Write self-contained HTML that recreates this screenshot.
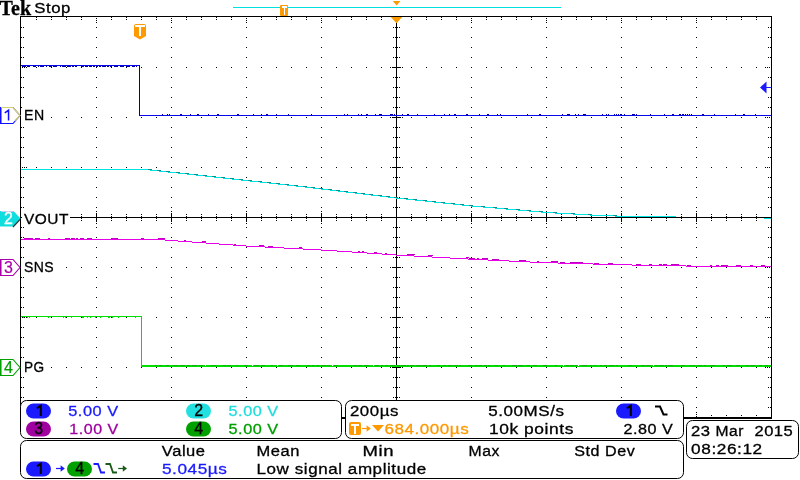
<!DOCTYPE html>
<html><head><meta charset="utf-8"><title>Tek</title>
<style>
html,body{margin:0;padding:0;background:#fff;}
body{width:800px;height:480px;overflow:hidden;position:relative;font-family:"Liberation Sans",sans-serif;}
svg{position:absolute;left:0;top:0;display:block;will-change:transform}
.t{font-family:"Liberation Sans",sans-serif;font-size:15px;letter-spacing:0.5px;stroke-width:0.3}
.tek{font-family:"Liberation Serif",serif;font-weight:bold;font-size:20px;fill:#000}
.px{shape-rendering:crispEdges}
</style></head><body>
<svg width="800" height="480" viewBox="0 0 800 480">
<rect width="800" height="480" fill="#fff"/>

<rect class="px" x="233" y="7" width="328" height="1" fill="#00e0e0"/>
<path d="M392.8 1h7.6l-3.8 4.4z" fill="#ff9900"/>
<rect x="280" y="5" width="8" height="11" rx="1" fill="#ff9900"/>
<path class="px" d="M282 6h5v2h-2v7h-1v-7h-2z" fill="#fff"/>
<path class="px" d="M20 16h752v1h-752zM20 16h1v403h-1zM771 16h1v403h-1zM20 417h752v2h-752zM396 16h1v401h-1zM20 217h751v1h-751zM36 17h1v1h-1zM36 19h1v1h-1zM36 415h1v1h-1zM51 17h1v1h-1zM51 19h1v1h-1zM51 415h1v1h-1zM66 17h1v1h-1zM66 19h1v1h-1zM66 415h1v1h-1zM81 17h1v1h-1zM81 19h1v1h-1zM81 415h1v1h-1zM111 17h1v1h-1zM111 19h1v1h-1zM111 415h1v1h-1zM126 17h1v1h-1zM126 19h1v1h-1zM126 415h1v1h-1zM141 17h1v1h-1zM141 19h1v1h-1zM141 415h1v1h-1zM156 17h1v1h-1zM156 19h1v1h-1zM156 415h1v1h-1zM186 17h1v1h-1zM186 19h1v1h-1zM186 415h1v1h-1zM201 17h1v1h-1zM201 19h1v1h-1zM201 415h1v1h-1zM216 17h1v1h-1zM216 19h1v1h-1zM216 415h1v1h-1zM231 17h1v1h-1zM231 19h1v1h-1zM231 415h1v1h-1zM261 17h1v1h-1zM261 19h1v1h-1zM261 415h1v1h-1zM276 17h1v1h-1zM276 19h1v1h-1zM276 415h1v1h-1zM291 17h1v1h-1zM291 19h1v1h-1zM291 415h1v1h-1zM306 17h1v1h-1zM306 19h1v1h-1zM306 415h1v1h-1zM336 17h1v1h-1zM336 19h1v1h-1zM336 415h1v1h-1zM351 17h1v1h-1zM351 19h1v1h-1zM351 415h1v1h-1zM366 17h1v1h-1zM366 19h1v1h-1zM366 415h1v1h-1zM381 17h1v1h-1zM381 19h1v1h-1zM381 415h1v1h-1zM411 17h1v1h-1zM411 19h1v1h-1zM411 415h1v1h-1zM426 17h1v1h-1zM426 19h1v1h-1zM426 415h1v1h-1zM441 17h1v1h-1zM441 19h1v1h-1zM441 415h1v1h-1zM456 17h1v1h-1zM456 19h1v1h-1zM456 415h1v1h-1zM486 17h1v1h-1zM486 19h1v1h-1zM486 415h1v1h-1zM501 17h1v1h-1zM501 19h1v1h-1zM501 415h1v1h-1zM516 17h1v1h-1zM516 19h1v1h-1zM516 415h1v1h-1zM531 17h1v1h-1zM531 19h1v1h-1zM531 415h1v1h-1zM561 17h1v1h-1zM561 19h1v1h-1zM561 415h1v1h-1zM576 17h1v1h-1zM576 19h1v1h-1zM576 415h1v1h-1zM591 17h1v1h-1zM591 19h1v1h-1zM591 415h1v1h-1zM606 17h1v1h-1zM606 19h1v1h-1zM606 415h1v1h-1zM636 17h1v1h-1zM636 19h1v1h-1zM636 415h1v1h-1zM651 17h1v1h-1zM651 19h1v1h-1zM651 415h1v1h-1zM666 17h1v1h-1zM666 19h1v1h-1zM666 415h1v1h-1zM681 17h1v1h-1zM681 19h1v1h-1zM681 415h1v1h-1zM711 17h1v1h-1zM711 19h1v1h-1zM711 415h1v1h-1zM726 17h1v1h-1zM726 19h1v1h-1zM726 415h1v1h-1zM741 17h1v1h-1zM741 19h1v1h-1zM741 415h1v1h-1zM756 17h1v1h-1zM756 19h1v1h-1zM756 415h1v1h-1zM21 27h1v1h-1zM23 27h1v1h-1zM770 27h1v1h-1zM768 27h1v1h-1zM21 37h1v1h-1zM23 37h1v1h-1zM770 37h1v1h-1zM768 37h1v1h-1zM21 47h1v1h-1zM23 47h1v1h-1zM770 47h1v1h-1zM768 47h1v1h-1zM21 57h1v1h-1zM23 57h1v1h-1zM770 57h1v1h-1zM768 57h1v1h-1zM21 77h1v1h-1zM23 77h1v1h-1zM770 77h1v1h-1zM768 77h1v1h-1zM21 87h1v1h-1zM23 87h1v1h-1zM770 87h1v1h-1zM768 87h1v1h-1zM21 97h1v1h-1zM23 97h1v1h-1zM770 97h1v1h-1zM768 97h1v1h-1zM21 107h1v1h-1zM23 107h1v1h-1zM770 107h1v1h-1zM768 107h1v1h-1zM21 127h1v1h-1zM23 127h1v1h-1zM770 127h1v1h-1zM768 127h1v1h-1zM21 137h1v1h-1zM23 137h1v1h-1zM770 137h1v1h-1zM768 137h1v1h-1zM21 147h1v1h-1zM23 147h1v1h-1zM770 147h1v1h-1zM768 147h1v1h-1zM21 157h1v1h-1zM23 157h1v1h-1zM770 157h1v1h-1zM768 157h1v1h-1zM21 177h1v1h-1zM23 177h1v1h-1zM770 177h1v1h-1zM768 177h1v1h-1zM21 187h1v1h-1zM23 187h1v1h-1zM770 187h1v1h-1zM768 187h1v1h-1zM21 197h1v1h-1zM23 197h1v1h-1zM770 197h1v1h-1zM768 197h1v1h-1zM21 207h1v1h-1zM23 207h1v1h-1zM770 207h1v1h-1zM768 207h1v1h-1zM21 227h1v1h-1zM23 227h1v1h-1zM770 227h1v1h-1zM768 227h1v1h-1zM21 237h1v1h-1zM23 237h1v1h-1zM770 237h1v1h-1zM768 237h1v1h-1zM21 247h1v1h-1zM23 247h1v1h-1zM770 247h1v1h-1zM768 247h1v1h-1zM21 257h1v1h-1zM23 257h1v1h-1zM770 257h1v1h-1zM768 257h1v1h-1zM21 277h1v1h-1zM23 277h1v1h-1zM770 277h1v1h-1zM768 277h1v1h-1zM21 287h1v1h-1zM23 287h1v1h-1zM770 287h1v1h-1zM768 287h1v1h-1zM21 297h1v1h-1zM23 297h1v1h-1zM770 297h1v1h-1zM768 297h1v1h-1zM21 307h1v1h-1zM23 307h1v1h-1zM770 307h1v1h-1zM768 307h1v1h-1zM21 327h1v1h-1zM23 327h1v1h-1zM770 327h1v1h-1zM768 327h1v1h-1zM21 337h1v1h-1zM23 337h1v1h-1zM770 337h1v1h-1zM768 337h1v1h-1zM21 347h1v1h-1zM23 347h1v1h-1zM770 347h1v1h-1zM768 347h1v1h-1zM21 357h1v1h-1zM23 357h1v1h-1zM770 357h1v1h-1zM768 357h1v1h-1zM21 377h1v1h-1zM23 377h1v1h-1zM770 377h1v1h-1zM768 377h1v1h-1zM21 387h1v1h-1zM23 387h1v1h-1zM770 387h1v1h-1zM768 387h1v1h-1zM21 397h1v1h-1zM23 397h1v1h-1zM770 397h1v1h-1zM768 397h1v1h-1zM21 407h1v1h-1zM23 407h1v1h-1zM770 407h1v1h-1zM768 407h1v1h-1zM96 27h1v1h-1zM96 37h1v1h-1zM96 47h1v1h-1zM96 57h1v1h-1zM96 67h1v1h-1zM96 77h1v1h-1zM96 87h1v1h-1zM96 97h1v1h-1zM96 107h1v1h-1zM96 117h1v1h-1zM96 127h1v1h-1zM96 137h1v1h-1zM96 147h1v1h-1zM96 157h1v1h-1zM96 167h1v1h-1zM96 177h1v1h-1zM96 187h1v1h-1zM96 197h1v1h-1zM96 207h1v1h-1zM96 217h1v1h-1zM96 227h1v1h-1zM96 237h1v1h-1zM96 247h1v1h-1zM96 257h1v1h-1zM96 267h1v1h-1zM96 277h1v1h-1zM96 287h1v1h-1zM96 297h1v1h-1zM96 307h1v1h-1zM96 317h1v1h-1zM96 327h1v1h-1zM96 337h1v1h-1zM96 347h1v1h-1zM96 357h1v1h-1zM96 367h1v1h-1zM96 377h1v1h-1zM96 387h1v1h-1zM96 397h1v1h-1zM96 407h1v1h-1zM96 18h1v1h-1zM96 20h1v1h-1zM96 22h1v1h-1zM96 412h1v1h-1zM96 414h1v1h-1zM96 416h1v1h-1zM96 211h1v1h-1zM96 213h1v1h-1zM96 215h1v1h-1zM96 219h1v1h-1zM96 221h1v1h-1zM96 223h1v1h-1zM171 27h1v1h-1zM171 37h1v1h-1zM171 47h1v1h-1zM171 57h1v1h-1zM171 67h1v1h-1zM171 77h1v1h-1zM171 87h1v1h-1zM171 97h1v1h-1zM171 107h1v1h-1zM171 117h1v1h-1zM171 127h1v1h-1zM171 137h1v1h-1zM171 147h1v1h-1zM171 157h1v1h-1zM171 167h1v1h-1zM171 177h1v1h-1zM171 187h1v1h-1zM171 197h1v1h-1zM171 207h1v1h-1zM171 217h1v1h-1zM171 227h1v1h-1zM171 237h1v1h-1zM171 247h1v1h-1zM171 257h1v1h-1zM171 267h1v1h-1zM171 277h1v1h-1zM171 287h1v1h-1zM171 297h1v1h-1zM171 307h1v1h-1zM171 317h1v1h-1zM171 327h1v1h-1zM171 337h1v1h-1zM171 347h1v1h-1zM171 357h1v1h-1zM171 367h1v1h-1zM171 377h1v1h-1zM171 387h1v1h-1zM171 397h1v1h-1zM171 407h1v1h-1zM171 18h1v1h-1zM171 20h1v1h-1zM171 22h1v1h-1zM171 412h1v1h-1zM171 414h1v1h-1zM171 416h1v1h-1zM171 211h1v1h-1zM171 213h1v1h-1zM171 215h1v1h-1zM171 219h1v1h-1zM171 221h1v1h-1zM171 223h1v1h-1zM246 27h1v1h-1zM246 37h1v1h-1zM246 47h1v1h-1zM246 57h1v1h-1zM246 67h1v1h-1zM246 77h1v1h-1zM246 87h1v1h-1zM246 97h1v1h-1zM246 107h1v1h-1zM246 117h1v1h-1zM246 127h1v1h-1zM246 137h1v1h-1zM246 147h1v1h-1zM246 157h1v1h-1zM246 167h1v1h-1zM246 177h1v1h-1zM246 187h1v1h-1zM246 197h1v1h-1zM246 207h1v1h-1zM246 217h1v1h-1zM246 227h1v1h-1zM246 237h1v1h-1zM246 247h1v1h-1zM246 257h1v1h-1zM246 267h1v1h-1zM246 277h1v1h-1zM246 287h1v1h-1zM246 297h1v1h-1zM246 307h1v1h-1zM246 317h1v1h-1zM246 327h1v1h-1zM246 337h1v1h-1zM246 347h1v1h-1zM246 357h1v1h-1zM246 367h1v1h-1zM246 377h1v1h-1zM246 387h1v1h-1zM246 397h1v1h-1zM246 407h1v1h-1zM246 18h1v1h-1zM246 20h1v1h-1zM246 22h1v1h-1zM246 412h1v1h-1zM246 414h1v1h-1zM246 416h1v1h-1zM246 211h1v1h-1zM246 213h1v1h-1zM246 215h1v1h-1zM246 219h1v1h-1zM246 221h1v1h-1zM246 223h1v1h-1zM321 27h1v1h-1zM321 37h1v1h-1zM321 47h1v1h-1zM321 57h1v1h-1zM321 67h1v1h-1zM321 77h1v1h-1zM321 87h1v1h-1zM321 97h1v1h-1zM321 107h1v1h-1zM321 117h1v1h-1zM321 127h1v1h-1zM321 137h1v1h-1zM321 147h1v1h-1zM321 157h1v1h-1zM321 167h1v1h-1zM321 177h1v1h-1zM321 187h1v1h-1zM321 197h1v1h-1zM321 207h1v1h-1zM321 217h1v1h-1zM321 227h1v1h-1zM321 237h1v1h-1zM321 247h1v1h-1zM321 257h1v1h-1zM321 267h1v1h-1zM321 277h1v1h-1zM321 287h1v1h-1zM321 297h1v1h-1zM321 307h1v1h-1zM321 317h1v1h-1zM321 327h1v1h-1zM321 337h1v1h-1zM321 347h1v1h-1zM321 357h1v1h-1zM321 367h1v1h-1zM321 377h1v1h-1zM321 387h1v1h-1zM321 397h1v1h-1zM321 407h1v1h-1zM321 18h1v1h-1zM321 20h1v1h-1zM321 22h1v1h-1zM321 412h1v1h-1zM321 414h1v1h-1zM321 416h1v1h-1zM321 211h1v1h-1zM321 213h1v1h-1zM321 215h1v1h-1zM321 219h1v1h-1zM321 221h1v1h-1zM321 223h1v1h-1zM471 27h1v1h-1zM471 37h1v1h-1zM471 47h1v1h-1zM471 57h1v1h-1zM471 67h1v1h-1zM471 77h1v1h-1zM471 87h1v1h-1zM471 97h1v1h-1zM471 107h1v1h-1zM471 117h1v1h-1zM471 127h1v1h-1zM471 137h1v1h-1zM471 147h1v1h-1zM471 157h1v1h-1zM471 167h1v1h-1zM471 177h1v1h-1zM471 187h1v1h-1zM471 197h1v1h-1zM471 207h1v1h-1zM471 217h1v1h-1zM471 227h1v1h-1zM471 237h1v1h-1zM471 247h1v1h-1zM471 257h1v1h-1zM471 267h1v1h-1zM471 277h1v1h-1zM471 287h1v1h-1zM471 297h1v1h-1zM471 307h1v1h-1zM471 317h1v1h-1zM471 327h1v1h-1zM471 337h1v1h-1zM471 347h1v1h-1zM471 357h1v1h-1zM471 367h1v1h-1zM471 377h1v1h-1zM471 387h1v1h-1zM471 397h1v1h-1zM471 407h1v1h-1zM471 18h1v1h-1zM471 20h1v1h-1zM471 22h1v1h-1zM471 412h1v1h-1zM471 414h1v1h-1zM471 416h1v1h-1zM471 211h1v1h-1zM471 213h1v1h-1zM471 215h1v1h-1zM471 219h1v1h-1zM471 221h1v1h-1zM471 223h1v1h-1zM546 27h1v1h-1zM546 37h1v1h-1zM546 47h1v1h-1zM546 57h1v1h-1zM546 67h1v1h-1zM546 77h1v1h-1zM546 87h1v1h-1zM546 97h1v1h-1zM546 107h1v1h-1zM546 117h1v1h-1zM546 127h1v1h-1zM546 137h1v1h-1zM546 147h1v1h-1zM546 157h1v1h-1zM546 167h1v1h-1zM546 177h1v1h-1zM546 187h1v1h-1zM546 197h1v1h-1zM546 207h1v1h-1zM546 217h1v1h-1zM546 227h1v1h-1zM546 237h1v1h-1zM546 247h1v1h-1zM546 257h1v1h-1zM546 267h1v1h-1zM546 277h1v1h-1zM546 287h1v1h-1zM546 297h1v1h-1zM546 307h1v1h-1zM546 317h1v1h-1zM546 327h1v1h-1zM546 337h1v1h-1zM546 347h1v1h-1zM546 357h1v1h-1zM546 367h1v1h-1zM546 377h1v1h-1zM546 387h1v1h-1zM546 397h1v1h-1zM546 407h1v1h-1zM546 18h1v1h-1zM546 20h1v1h-1zM546 22h1v1h-1zM546 412h1v1h-1zM546 414h1v1h-1zM546 416h1v1h-1zM546 211h1v1h-1zM546 213h1v1h-1zM546 215h1v1h-1zM546 219h1v1h-1zM546 221h1v1h-1zM546 223h1v1h-1zM621 27h1v1h-1zM621 37h1v1h-1zM621 47h1v1h-1zM621 57h1v1h-1zM621 67h1v1h-1zM621 77h1v1h-1zM621 87h1v1h-1zM621 97h1v1h-1zM621 107h1v1h-1zM621 117h1v1h-1zM621 127h1v1h-1zM621 137h1v1h-1zM621 147h1v1h-1zM621 157h1v1h-1zM621 167h1v1h-1zM621 177h1v1h-1zM621 187h1v1h-1zM621 197h1v1h-1zM621 207h1v1h-1zM621 217h1v1h-1zM621 227h1v1h-1zM621 237h1v1h-1zM621 247h1v1h-1zM621 257h1v1h-1zM621 267h1v1h-1zM621 277h1v1h-1zM621 287h1v1h-1zM621 297h1v1h-1zM621 307h1v1h-1zM621 317h1v1h-1zM621 327h1v1h-1zM621 337h1v1h-1zM621 347h1v1h-1zM621 357h1v1h-1zM621 367h1v1h-1zM621 377h1v1h-1zM621 387h1v1h-1zM621 397h1v1h-1zM621 407h1v1h-1zM621 18h1v1h-1zM621 20h1v1h-1zM621 22h1v1h-1zM621 412h1v1h-1zM621 414h1v1h-1zM621 416h1v1h-1zM621 211h1v1h-1zM621 213h1v1h-1zM621 215h1v1h-1zM621 219h1v1h-1zM621 221h1v1h-1zM621 223h1v1h-1zM696 27h1v1h-1zM696 37h1v1h-1zM696 47h1v1h-1zM696 57h1v1h-1zM696 67h1v1h-1zM696 77h1v1h-1zM696 87h1v1h-1zM696 97h1v1h-1zM696 107h1v1h-1zM696 117h1v1h-1zM696 127h1v1h-1zM696 137h1v1h-1zM696 147h1v1h-1zM696 157h1v1h-1zM696 167h1v1h-1zM696 177h1v1h-1zM696 187h1v1h-1zM696 197h1v1h-1zM696 207h1v1h-1zM696 217h1v1h-1zM696 227h1v1h-1zM696 237h1v1h-1zM696 247h1v1h-1zM696 257h1v1h-1zM696 267h1v1h-1zM696 277h1v1h-1zM696 287h1v1h-1zM696 297h1v1h-1zM696 307h1v1h-1zM696 317h1v1h-1zM696 327h1v1h-1zM696 337h1v1h-1zM696 347h1v1h-1zM696 357h1v1h-1zM696 367h1v1h-1zM696 377h1v1h-1zM696 387h1v1h-1zM696 397h1v1h-1zM696 407h1v1h-1zM696 18h1v1h-1zM696 20h1v1h-1zM696 22h1v1h-1zM696 412h1v1h-1zM696 414h1v1h-1zM696 416h1v1h-1zM696 211h1v1h-1zM696 213h1v1h-1zM696 215h1v1h-1zM696 219h1v1h-1zM696 221h1v1h-1zM696 223h1v1h-1zM36 67h1v1h-1zM51 67h1v1h-1zM66 67h1v1h-1zM81 67h1v1h-1zM96 67h1v1h-1zM111 67h1v1h-1zM126 67h1v1h-1zM141 67h1v1h-1zM156 67h1v1h-1zM171 67h1v1h-1zM186 67h1v1h-1zM201 67h1v1h-1zM216 67h1v1h-1zM231 67h1v1h-1zM246 67h1v1h-1zM261 67h1v1h-1zM276 67h1v1h-1zM291 67h1v1h-1zM306 67h1v1h-1zM321 67h1v1h-1zM336 67h1v1h-1zM351 67h1v1h-1zM366 67h1v1h-1zM381 67h1v1h-1zM396 67h1v1h-1zM411 67h1v1h-1zM426 67h1v1h-1zM441 67h1v1h-1zM456 67h1v1h-1zM471 67h1v1h-1zM486 67h1v1h-1zM501 67h1v1h-1zM516 67h1v1h-1zM531 67h1v1h-1zM546 67h1v1h-1zM561 67h1v1h-1zM576 67h1v1h-1zM591 67h1v1h-1zM606 67h1v1h-1zM621 67h1v1h-1zM636 67h1v1h-1zM651 67h1v1h-1zM666 67h1v1h-1zM681 67h1v1h-1zM696 67h1v1h-1zM711 67h1v1h-1zM726 67h1v1h-1zM741 67h1v1h-1zM756 67h1v1h-1zM22 67h1v1h-1zM24 67h1v1h-1zM26 67h1v1h-1zM765 67h1v1h-1zM767 67h1v1h-1zM769 67h1v1h-1zM390 67h1v1h-1zM392 67h1v1h-1zM394 67h1v1h-1zM398 67h1v1h-1zM400 67h1v1h-1zM402 67h1v1h-1zM36 117h1v1h-1zM51 117h1v1h-1zM66 117h1v1h-1zM81 117h1v1h-1zM96 117h1v1h-1zM111 117h1v1h-1zM126 117h1v1h-1zM141 117h1v1h-1zM156 117h1v1h-1zM171 117h1v1h-1zM186 117h1v1h-1zM201 117h1v1h-1zM216 117h1v1h-1zM231 117h1v1h-1zM246 117h1v1h-1zM261 117h1v1h-1zM276 117h1v1h-1zM291 117h1v1h-1zM306 117h1v1h-1zM321 117h1v1h-1zM336 117h1v1h-1zM351 117h1v1h-1zM366 117h1v1h-1zM381 117h1v1h-1zM396 117h1v1h-1zM411 117h1v1h-1zM426 117h1v1h-1zM441 117h1v1h-1zM456 117h1v1h-1zM471 117h1v1h-1zM486 117h1v1h-1zM501 117h1v1h-1zM516 117h1v1h-1zM531 117h1v1h-1zM546 117h1v1h-1zM561 117h1v1h-1zM576 117h1v1h-1zM591 117h1v1h-1zM606 117h1v1h-1zM621 117h1v1h-1zM636 117h1v1h-1zM651 117h1v1h-1zM666 117h1v1h-1zM681 117h1v1h-1zM696 117h1v1h-1zM711 117h1v1h-1zM726 117h1v1h-1zM741 117h1v1h-1zM756 117h1v1h-1zM22 117h1v1h-1zM24 117h1v1h-1zM26 117h1v1h-1zM765 117h1v1h-1zM767 117h1v1h-1zM769 117h1v1h-1zM390 117h1v1h-1zM392 117h1v1h-1zM394 117h1v1h-1zM398 117h1v1h-1zM400 117h1v1h-1zM402 117h1v1h-1zM36 167h1v1h-1zM51 167h1v1h-1zM66 167h1v1h-1zM81 167h1v1h-1zM96 167h1v1h-1zM111 167h1v1h-1zM126 167h1v1h-1zM141 167h1v1h-1zM156 167h1v1h-1zM171 167h1v1h-1zM186 167h1v1h-1zM201 167h1v1h-1zM216 167h1v1h-1zM231 167h1v1h-1zM246 167h1v1h-1zM261 167h1v1h-1zM276 167h1v1h-1zM291 167h1v1h-1zM306 167h1v1h-1zM321 167h1v1h-1zM336 167h1v1h-1zM351 167h1v1h-1zM366 167h1v1h-1zM381 167h1v1h-1zM396 167h1v1h-1zM411 167h1v1h-1zM426 167h1v1h-1zM441 167h1v1h-1zM456 167h1v1h-1zM471 167h1v1h-1zM486 167h1v1h-1zM501 167h1v1h-1zM516 167h1v1h-1zM531 167h1v1h-1zM546 167h1v1h-1zM561 167h1v1h-1zM576 167h1v1h-1zM591 167h1v1h-1zM606 167h1v1h-1zM621 167h1v1h-1zM636 167h1v1h-1zM651 167h1v1h-1zM666 167h1v1h-1zM681 167h1v1h-1zM696 167h1v1h-1zM711 167h1v1h-1zM726 167h1v1h-1zM741 167h1v1h-1zM756 167h1v1h-1zM22 167h1v1h-1zM24 167h1v1h-1zM26 167h1v1h-1zM765 167h1v1h-1zM767 167h1v1h-1zM769 167h1v1h-1zM390 167h1v1h-1zM392 167h1v1h-1zM394 167h1v1h-1zM398 167h1v1h-1zM400 167h1v1h-1zM402 167h1v1h-1zM36 267h1v1h-1zM51 267h1v1h-1zM66 267h1v1h-1zM81 267h1v1h-1zM96 267h1v1h-1zM111 267h1v1h-1zM126 267h1v1h-1zM141 267h1v1h-1zM156 267h1v1h-1zM171 267h1v1h-1zM186 267h1v1h-1zM201 267h1v1h-1zM216 267h1v1h-1zM231 267h1v1h-1zM246 267h1v1h-1zM261 267h1v1h-1zM276 267h1v1h-1zM291 267h1v1h-1zM306 267h1v1h-1zM321 267h1v1h-1zM336 267h1v1h-1zM351 267h1v1h-1zM366 267h1v1h-1zM381 267h1v1h-1zM396 267h1v1h-1zM411 267h1v1h-1zM426 267h1v1h-1zM441 267h1v1h-1zM456 267h1v1h-1zM471 267h1v1h-1zM486 267h1v1h-1zM501 267h1v1h-1zM516 267h1v1h-1zM531 267h1v1h-1zM546 267h1v1h-1zM561 267h1v1h-1zM576 267h1v1h-1zM591 267h1v1h-1zM606 267h1v1h-1zM621 267h1v1h-1zM636 267h1v1h-1zM651 267h1v1h-1zM666 267h1v1h-1zM681 267h1v1h-1zM696 267h1v1h-1zM711 267h1v1h-1zM726 267h1v1h-1zM741 267h1v1h-1zM756 267h1v1h-1zM22 267h1v1h-1zM24 267h1v1h-1zM26 267h1v1h-1zM765 267h1v1h-1zM767 267h1v1h-1zM769 267h1v1h-1zM390 267h1v1h-1zM392 267h1v1h-1zM394 267h1v1h-1zM398 267h1v1h-1zM400 267h1v1h-1zM402 267h1v1h-1zM36 317h1v1h-1zM51 317h1v1h-1zM66 317h1v1h-1zM81 317h1v1h-1zM96 317h1v1h-1zM111 317h1v1h-1zM126 317h1v1h-1zM141 317h1v1h-1zM156 317h1v1h-1zM171 317h1v1h-1zM186 317h1v1h-1zM201 317h1v1h-1zM216 317h1v1h-1zM231 317h1v1h-1zM246 317h1v1h-1zM261 317h1v1h-1zM276 317h1v1h-1zM291 317h1v1h-1zM306 317h1v1h-1zM321 317h1v1h-1zM336 317h1v1h-1zM351 317h1v1h-1zM366 317h1v1h-1zM381 317h1v1h-1zM396 317h1v1h-1zM411 317h1v1h-1zM426 317h1v1h-1zM441 317h1v1h-1zM456 317h1v1h-1zM471 317h1v1h-1zM486 317h1v1h-1zM501 317h1v1h-1zM516 317h1v1h-1zM531 317h1v1h-1zM546 317h1v1h-1zM561 317h1v1h-1zM576 317h1v1h-1zM591 317h1v1h-1zM606 317h1v1h-1zM621 317h1v1h-1zM636 317h1v1h-1zM651 317h1v1h-1zM666 317h1v1h-1zM681 317h1v1h-1zM696 317h1v1h-1zM711 317h1v1h-1zM726 317h1v1h-1zM741 317h1v1h-1zM756 317h1v1h-1zM22 317h1v1h-1zM24 317h1v1h-1zM26 317h1v1h-1zM765 317h1v1h-1zM767 317h1v1h-1zM769 317h1v1h-1zM390 317h1v1h-1zM392 317h1v1h-1zM394 317h1v1h-1zM398 317h1v1h-1zM400 317h1v1h-1zM402 317h1v1h-1zM36 367h1v1h-1zM51 367h1v1h-1zM66 367h1v1h-1zM81 367h1v1h-1zM96 367h1v1h-1zM111 367h1v1h-1zM126 367h1v1h-1zM141 367h1v1h-1zM156 367h1v1h-1zM171 367h1v1h-1zM186 367h1v1h-1zM201 367h1v1h-1zM216 367h1v1h-1zM231 367h1v1h-1zM246 367h1v1h-1zM261 367h1v1h-1zM276 367h1v1h-1zM291 367h1v1h-1zM306 367h1v1h-1zM321 367h1v1h-1zM336 367h1v1h-1zM351 367h1v1h-1zM366 367h1v1h-1zM381 367h1v1h-1zM396 367h1v1h-1zM411 367h1v1h-1zM426 367h1v1h-1zM441 367h1v1h-1zM456 367h1v1h-1zM471 367h1v1h-1zM486 367h1v1h-1zM501 367h1v1h-1zM516 367h1v1h-1zM531 367h1v1h-1zM546 367h1v1h-1zM561 367h1v1h-1zM576 367h1v1h-1zM591 367h1v1h-1zM606 367h1v1h-1zM621 367h1v1h-1zM636 367h1v1h-1zM651 367h1v1h-1zM666 367h1v1h-1zM681 367h1v1h-1zM696 367h1v1h-1zM711 367h1v1h-1zM726 367h1v1h-1zM741 367h1v1h-1zM756 367h1v1h-1zM22 367h1v1h-1zM24 367h1v1h-1zM26 367h1v1h-1zM765 367h1v1h-1zM767 367h1v1h-1zM769 367h1v1h-1zM390 367h1v1h-1zM392 367h1v1h-1zM394 367h1v1h-1zM398 367h1v1h-1zM400 367h1v1h-1zM402 367h1v1h-1zM393 27h1v1h-1zM395 27h1v1h-1zM397 27h1v1h-1zM399 27h1v1h-1zM393 37h1v1h-1zM395 37h1v1h-1zM397 37h1v1h-1zM399 37h1v1h-1zM393 47h1v1h-1zM395 47h1v1h-1zM397 47h1v1h-1zM399 47h1v1h-1zM393 57h1v1h-1zM395 57h1v1h-1zM397 57h1v1h-1zM399 57h1v1h-1zM393 67h1v1h-1zM395 67h1v1h-1zM397 67h1v1h-1zM399 67h1v1h-1zM393 77h1v1h-1zM395 77h1v1h-1zM397 77h1v1h-1zM399 77h1v1h-1zM393 87h1v1h-1zM395 87h1v1h-1zM397 87h1v1h-1zM399 87h1v1h-1zM393 97h1v1h-1zM395 97h1v1h-1zM397 97h1v1h-1zM399 97h1v1h-1zM393 107h1v1h-1zM395 107h1v1h-1zM397 107h1v1h-1zM399 107h1v1h-1zM393 117h1v1h-1zM395 117h1v1h-1zM397 117h1v1h-1zM399 117h1v1h-1zM393 127h1v1h-1zM395 127h1v1h-1zM397 127h1v1h-1zM399 127h1v1h-1zM393 137h1v1h-1zM395 137h1v1h-1zM397 137h1v1h-1zM399 137h1v1h-1zM393 147h1v1h-1zM395 147h1v1h-1zM397 147h1v1h-1zM399 147h1v1h-1zM393 157h1v1h-1zM395 157h1v1h-1zM397 157h1v1h-1zM399 157h1v1h-1zM393 167h1v1h-1zM395 167h1v1h-1zM397 167h1v1h-1zM399 167h1v1h-1zM393 177h1v1h-1zM395 177h1v1h-1zM397 177h1v1h-1zM399 177h1v1h-1zM393 187h1v1h-1zM395 187h1v1h-1zM397 187h1v1h-1zM399 187h1v1h-1zM393 197h1v1h-1zM395 197h1v1h-1zM397 197h1v1h-1zM399 197h1v1h-1zM393 207h1v1h-1zM395 207h1v1h-1zM397 207h1v1h-1zM399 207h1v1h-1zM393 227h1v1h-1zM395 227h1v1h-1zM397 227h1v1h-1zM399 227h1v1h-1zM393 237h1v1h-1zM395 237h1v1h-1zM397 237h1v1h-1zM399 237h1v1h-1zM393 247h1v1h-1zM395 247h1v1h-1zM397 247h1v1h-1zM399 247h1v1h-1zM393 257h1v1h-1zM395 257h1v1h-1zM397 257h1v1h-1zM399 257h1v1h-1zM393 267h1v1h-1zM395 267h1v1h-1zM397 267h1v1h-1zM399 267h1v1h-1zM393 277h1v1h-1zM395 277h1v1h-1zM397 277h1v1h-1zM399 277h1v1h-1zM393 287h1v1h-1zM395 287h1v1h-1zM397 287h1v1h-1zM399 287h1v1h-1zM393 297h1v1h-1zM395 297h1v1h-1zM397 297h1v1h-1zM399 297h1v1h-1zM393 307h1v1h-1zM395 307h1v1h-1zM397 307h1v1h-1zM399 307h1v1h-1zM393 317h1v1h-1zM395 317h1v1h-1zM397 317h1v1h-1zM399 317h1v1h-1zM393 327h1v1h-1zM395 327h1v1h-1zM397 327h1v1h-1zM399 327h1v1h-1zM393 337h1v1h-1zM395 337h1v1h-1zM397 337h1v1h-1zM399 337h1v1h-1zM393 347h1v1h-1zM395 347h1v1h-1zM397 347h1v1h-1zM399 347h1v1h-1zM393 357h1v1h-1zM395 357h1v1h-1zM397 357h1v1h-1zM399 357h1v1h-1zM393 367h1v1h-1zM395 367h1v1h-1zM397 367h1v1h-1zM399 367h1v1h-1zM393 377h1v1h-1zM395 377h1v1h-1zM397 377h1v1h-1zM399 377h1v1h-1zM393 387h1v1h-1zM395 387h1v1h-1zM397 387h1v1h-1zM399 387h1v1h-1zM393 397h1v1h-1zM395 397h1v1h-1zM397 397h1v1h-1zM399 397h1v1h-1zM393 407h1v1h-1zM395 407h1v1h-1zM397 407h1v1h-1zM399 407h1v1h-1zM36 214h1v1h-1zM36 216h1v1h-1zM36 218h1v1h-1zM36 220h1v1h-1zM51 214h1v1h-1zM51 216h1v1h-1zM51 218h1v1h-1zM51 220h1v1h-1zM66 214h1v1h-1zM66 216h1v1h-1zM66 218h1v1h-1zM66 220h1v1h-1zM81 214h1v1h-1zM81 216h1v1h-1zM81 218h1v1h-1zM81 220h1v1h-1zM96 214h1v1h-1zM96 216h1v1h-1zM96 218h1v1h-1zM96 220h1v1h-1zM111 214h1v1h-1zM111 216h1v1h-1zM111 218h1v1h-1zM111 220h1v1h-1zM126 214h1v1h-1zM126 216h1v1h-1zM126 218h1v1h-1zM126 220h1v1h-1zM141 214h1v1h-1zM141 216h1v1h-1zM141 218h1v1h-1zM141 220h1v1h-1zM156 214h1v1h-1zM156 216h1v1h-1zM156 218h1v1h-1zM156 220h1v1h-1zM171 214h1v1h-1zM171 216h1v1h-1zM171 218h1v1h-1zM171 220h1v1h-1zM186 214h1v1h-1zM186 216h1v1h-1zM186 218h1v1h-1zM186 220h1v1h-1zM201 214h1v1h-1zM201 216h1v1h-1zM201 218h1v1h-1zM201 220h1v1h-1zM216 214h1v1h-1zM216 216h1v1h-1zM216 218h1v1h-1zM216 220h1v1h-1zM231 214h1v1h-1zM231 216h1v1h-1zM231 218h1v1h-1zM231 220h1v1h-1zM246 214h1v1h-1zM246 216h1v1h-1zM246 218h1v1h-1zM246 220h1v1h-1zM261 214h1v1h-1zM261 216h1v1h-1zM261 218h1v1h-1zM261 220h1v1h-1zM276 214h1v1h-1zM276 216h1v1h-1zM276 218h1v1h-1zM276 220h1v1h-1zM291 214h1v1h-1zM291 216h1v1h-1zM291 218h1v1h-1zM291 220h1v1h-1zM306 214h1v1h-1zM306 216h1v1h-1zM306 218h1v1h-1zM306 220h1v1h-1zM321 214h1v1h-1zM321 216h1v1h-1zM321 218h1v1h-1zM321 220h1v1h-1zM336 214h1v1h-1zM336 216h1v1h-1zM336 218h1v1h-1zM336 220h1v1h-1zM351 214h1v1h-1zM351 216h1v1h-1zM351 218h1v1h-1zM351 220h1v1h-1zM366 214h1v1h-1zM366 216h1v1h-1zM366 218h1v1h-1zM366 220h1v1h-1zM381 214h1v1h-1zM381 216h1v1h-1zM381 218h1v1h-1zM381 220h1v1h-1zM411 214h1v1h-1zM411 216h1v1h-1zM411 218h1v1h-1zM411 220h1v1h-1zM426 214h1v1h-1zM426 216h1v1h-1zM426 218h1v1h-1zM426 220h1v1h-1zM441 214h1v1h-1zM441 216h1v1h-1zM441 218h1v1h-1zM441 220h1v1h-1zM456 214h1v1h-1zM456 216h1v1h-1zM456 218h1v1h-1zM456 220h1v1h-1zM471 214h1v1h-1zM471 216h1v1h-1zM471 218h1v1h-1zM471 220h1v1h-1zM486 214h1v1h-1zM486 216h1v1h-1zM486 218h1v1h-1zM486 220h1v1h-1zM501 214h1v1h-1zM501 216h1v1h-1zM501 218h1v1h-1zM501 220h1v1h-1zM516 214h1v1h-1zM516 216h1v1h-1zM516 218h1v1h-1zM516 220h1v1h-1zM531 214h1v1h-1zM531 216h1v1h-1zM531 218h1v1h-1zM531 220h1v1h-1zM546 214h1v1h-1zM546 216h1v1h-1zM546 218h1v1h-1zM546 220h1v1h-1zM561 214h1v1h-1zM561 216h1v1h-1zM561 218h1v1h-1zM561 220h1v1h-1zM576 214h1v1h-1zM576 216h1v1h-1zM576 218h1v1h-1zM576 220h1v1h-1zM591 214h1v1h-1zM591 216h1v1h-1zM591 218h1v1h-1zM591 220h1v1h-1zM606 214h1v1h-1zM606 216h1v1h-1zM606 218h1v1h-1zM606 220h1v1h-1zM621 214h1v1h-1zM621 216h1v1h-1zM621 218h1v1h-1zM621 220h1v1h-1zM636 214h1v1h-1zM636 216h1v1h-1zM636 218h1v1h-1zM636 220h1v1h-1zM651 214h1v1h-1zM651 216h1v1h-1zM651 218h1v1h-1zM651 220h1v1h-1zM666 214h1v1h-1zM666 216h1v1h-1zM666 218h1v1h-1zM666 220h1v1h-1zM681 214h1v1h-1zM681 216h1v1h-1zM681 218h1v1h-1zM681 220h1v1h-1zM696 214h1v1h-1zM696 216h1v1h-1zM696 218h1v1h-1zM696 220h1v1h-1zM711 214h1v1h-1zM711 216h1v1h-1zM711 218h1v1h-1zM711 220h1v1h-1zM726 214h1v1h-1zM726 216h1v1h-1zM726 218h1v1h-1zM726 220h1v1h-1zM741 214h1v1h-1zM741 216h1v1h-1zM741 218h1v1h-1zM741 220h1v1h-1zM756 214h1v1h-1zM756 216h1v1h-1zM756 218h1v1h-1zM756 220h1v1h-1z" fill="#000"/>
<rect class="px" x="22" y="107" width="24" height="16" fill="#fff"/>
<rect class="px" x="22" y="210" width="48" height="16" fill="#fff"/>
<rect class="px" x="22" y="259" width="34" height="16" fill="#fff"/>
<rect class="px" x="22" y="359" width="24" height="16" fill="#fff"/>
<path class="px" d="M21 169h129v1h-129zM150 170h9v1h-9zM159 171h9v1h-9zM168 172h10v1h-10zM178 173h9v1h-9zM187 174h9v1h-9zM196 175h9v1h-9zM205 176h9v1h-9zM214 177h9v1h-9zM223 178h9v1h-9zM232 179h9v1h-9zM241 180h9v1h-9zM250 181h10v1h-10zM260 182h9v1h-9zM269 183h9v1h-9zM278 184h9v1h-9zM287 185h9v1h-9zM296 186h9v1h-9zM305 187h8v1h-8zM313 188h8v1h-8zM321 189h9v1h-9zM330 190h8v1h-8zM338 191h8v1h-8zM346 192h9v1h-9zM355 193h8v1h-8zM363 194h8v1h-8zM371 195h9v1h-9zM380 196h8v1h-8zM388 197h8v1h-8zM396 198h10v1h-10zM406 199h9v1h-9zM415 200h10v1h-10zM425 201h9v1h-9zM434 202h9v1h-9zM443 203h10v1h-10zM453 204h9v1h-9zM462 205h9v1h-9zM471 206h12v1h-12zM483 207h12v1h-12zM495 208h11v1h-11zM506 209h12v1h-12zM518 210h11v1h-11zM529 211h12v1h-12zM541 212h14v1h-14zM555 213h18v1h-18zM573 214h17v1h-17zM590 215h25v1h-25zM615 216h61v1h-61zM676 217h88v1h-88zM764 218h7v1h-7z" fill="#00e4e4"/>
<path class="px" d="M148 169h4v1h-4zM157 170h4v1h-4zM166 171h4v1h-4zM176 172h4v1h-4zM185 173h4v1h-4zM194 174h4v1h-4zM203 175h4v1h-4zM212 176h4v1h-4zM221 177h4v1h-4zM230 178h4v1h-4zM239 179h4v1h-4zM248 180h4v1h-4zM258 181h4v1h-4zM267 182h4v1h-4zM276 183h4v1h-4zM285 184h4v1h-4zM294 185h4v1h-4zM303 186h4v1h-4zM311 187h4v1h-4zM319 188h4v1h-4zM328 189h4v1h-4zM336 190h4v1h-4zM344 191h4v1h-4zM353 192h4v1h-4zM361 193h4v1h-4zM369 194h4v1h-4zM378 195h4v1h-4zM386 196h4v1h-4zM394 197h4v1h-4zM404 198h4v1h-4zM413 199h4v1h-4zM423 200h4v1h-4zM432 201h4v1h-4zM441 202h4v1h-4zM451 203h4v1h-4zM460 204h4v1h-4zM469 205h4v1h-4zM481 206h4v1h-4zM493 207h4v1h-4zM504 208h4v1h-4zM516 209h4v1h-4zM527 210h4v1h-4zM539 211h4v1h-4zM553 212h4v1h-4zM571 213h4v1h-4zM588 214h4v1h-4zM613 215h4v1h-4z" fill="#009090"/>
<path class="px" d="M21 239h144v1h-144zM165 240h13v1h-13zM178 241h14v1h-14zM192 242h14v1h-14zM206 243h13v1h-13zM219 244h14v1h-14zM233 245h13v1h-13zM246 246h19v1h-19zM265 247h19v1h-19zM284 248h19v1h-19zM303 249h18v1h-18zM321 250h16v1h-16zM337 251h15v1h-15zM352 252h15v1h-15zM367 253h15v1h-15zM382 254h14v1h-14zM396 255h18v1h-18zM414 256h18v1h-18zM432 257h18v1h-18zM450 258h18v1h-18zM468 259h20v1h-20zM488 260h21v1h-21zM509 261h21v1h-21zM530 262h28v1h-28zM558 263h35v1h-35zM593 264h39v1h-39zM632 265h54v1h-54zM686 266h85v1h-85z" fill="#e800e8"/>
<path class="px" d="M24 238h2v1h-2zM26 238h3v1h-3zM27 238h5v1h-5zM31 238h2v1h-2zM35 238h5v1h-5zM36 238h3v1h-3zM37 238h3v1h-3zM48 238h2v1h-2zM65 238h5v1h-5zM71 238h4v1h-4zM76 238h2v1h-2zM80 238h4v1h-4zM87 238h5v1h-5zM111 238h3v1h-3zM113 238h5v1h-5zM141 238h3v1h-3zM158 238h4v1h-4zM161 238h4v1h-4zM184 240h2v1h-2zM202 241h4v1h-4zM234 244h2v1h-2zM259 245h5v1h-5zM268 246h5v1h-5zM299 247h3v1h-3zM358 251h2v1h-2zM362 251h2v1h-2zM374 252h3v1h-3zM385 253h2v1h-2zM407 254h3v1h-3zM408 254h4v1h-4zM410 254h5v1h-5zM428 255h5v1h-5zM466 257h3v1h-3zM469 258h4v1h-4zM473 258h2v1h-2zM477 258h2v1h-2zM482 258h5v1h-5zM484 258h4v1h-4zM492 259h4v1h-4zM496 259h3v1h-3zM519 260h5v1h-5zM524 260h2v1h-2zM537 261h2v1h-2zM551 261h4v1h-4zM553 261h5v1h-5zM560 262h2v1h-2zM561 262h4v1h-4zM570 262h5v1h-5zM575 262h5v1h-5zM580 262h3v1h-3zM594 263h5v1h-5zM608 263h5v1h-5zM636 264h5v1h-5zM649 264h3v1h-3zM659 264h3v1h-3zM663 264h4v1h-4zM671 264h5v1h-5zM674 264h5v1h-5zM687 265h4v1h-4zM710 265h2v1h-2zM716 265h3v1h-3zM721 265h5v1h-5zM726 265h2v1h-2zM736 265h5v1h-5zM750 265h3v1h-3zM761 265h2v1h-2zM762 265h3v1h-3z" fill="#c000c0"/>
<path class="px" d="M21 65h119v1h-119zM139 115h632v1h-632z" fill="#0808e8"/>
<path class="px" d="M139 65h1v51h-1zM22 66h4v1h-4zM27 66h3v1h-3zM33 66h3v1h-3zM38 66h1v1h-1zM40 66h4v1h-4zM46 66h1v1h-1zM49 66h3v1h-3zM53 66h4v1h-4zM60 66h1v1h-1zM62 66h4v1h-4zM67 66h4v1h-4zM72 66h2v1h-2zM75 66h2v1h-2zM81 66h3v1h-3zM85 66h3v1h-3zM89 66h3v1h-3zM93 66h2v1h-2zM96 66h2v1h-2zM99 66h2v1h-2zM102 66h4v1h-4zM107 66h2v1h-2zM110 66h2v1h-2zM114 66h4v1h-4zM120 66h4v1h-4zM126 66h4v1h-4zM132 66h3v1h-3zM136 66h1v1h-1zM162 114h1v1h-1zM167 114h1v1h-1zM169 114h1v1h-1zM180 114h2v1h-2zM190 114h1v1h-1zM197 114h2v1h-2zM208 114h1v1h-1zM217 114h2v1h-2zM237 114h2v1h-2zM253 114h1v1h-1zM261 114h1v1h-1zM266 114h2v1h-2zM276 114h1v1h-1zM288 114h1v1h-1zM311 114h1v1h-1zM344 114h1v1h-1zM347 114h1v1h-1zM358 114h1v1h-1zM361 114h1v1h-1zM366 114h2v1h-2zM375 114h1v1h-1zM379 114h1v1h-1zM380 114h2v1h-2zM390 114h2v1h-2zM391 114h2v1h-2zM394 114h1v1h-1zM402 114h1v1h-1zM407 114h2v1h-2zM417 114h1v1h-1zM434 114h1v1h-1zM444 114h1v1h-1zM449 114h1v1h-1zM454 114h2v1h-2zM466 114h2v1h-2zM479 114h1v1h-1zM487 114h2v1h-2zM497 114h1v1h-1zM500 114h1v1h-1zM527 114h1v1h-1zM539 114h2v1h-2zM562 114h1v1h-1zM567 114h2v1h-2zM568 114h1v1h-1zM569 114h1v1h-1zM575 114h1v1h-1zM578 114h1v1h-1zM583 114h2v1h-2zM585 114h1v1h-1zM602 114h1v1h-1zM606 114h1v1h-1zM608 114h1v1h-1zM614 114h1v1h-1zM616 114h1v1h-1zM618 114h1v1h-1zM620 114h2v1h-2zM624 114h1v1h-1zM632 114h2v1h-2zM634 114h1v1h-1zM636 114h1v1h-1zM650 114h1v1h-1zM664 114h1v1h-1zM672 114h2v1h-2zM679 114h1v1h-1zM680 114h1v1h-1zM682 114h2v1h-2zM685 114h1v1h-1zM687 114h1v1h-1zM689 114h1v1h-1zM691 114h1v1h-1zM702 114h2v1h-2zM714 114h1v1h-1zM735 114h1v1h-1zM743 114h2v1h-2zM755 114h1v1h-1z" fill="#0000a0"/>
<path class="px" d="M21 316h121v1h-121zM141 316h1v51h-1zM141 365h630v2h-630zM23 317h1v1h-1zM27 317h1v1h-1zM29 317h1v1h-1zM48 317h1v1h-1zM63 317h1v1h-1zM65 317h1v1h-1zM71 317h1v1h-1zM82 317h1v1h-1zM83 317h1v1h-1zM87 317h1v1h-1zM90 317h1v1h-1zM95 317h1v1h-1zM100 317h1v1h-1zM108 317h1v1h-1zM109 317h1v1h-1zM112 317h1v1h-1zM118 317h1v1h-1zM135 317h1v1h-1z" fill="#00e000"/>
<path class="px" d="M155 365h2v1h-2zM159 365h3v1h-3zM166 365h3v1h-3zM173 365h5v1h-5zM180 365h5v1h-5zM187 365h3v1h-3zM192 365h5v1h-5zM199 365h4v1h-4zM211 365h5v1h-5zM223 365h3v1h-3zM227 365h4v1h-4zM236 365h2v1h-2zM244 365h4v1h-4zM254 365h5v1h-5zM261 365h4v1h-4zM271 365h2v1h-2zM279 365h4v1h-4zM288 365h5v1h-5zM296 365h4v1h-4zM307 365h3v1h-3zM312 365h2v1h-2zM317 365h2v1h-2zM321 365h5v1h-5zM327 365h3v1h-3zM334 365h4v1h-4zM354 365h3v1h-3zM358 365h4v1h-4zM364 365h5v1h-5zM375 365h4v1h-4zM381 365h2v1h-2zM385 365h3v1h-3zM390 365h5v1h-5zM397 365h3v1h-3zM401 365h5v1h-5zM407 365h2v1h-2zM410 365h4v1h-4zM416 365h5v1h-5zM422 365h5v1h-5zM429 365h2v1h-2zM437 365h3v1h-3zM443 365h3v1h-3zM448 365h4v1h-4zM454 365h4v1h-4zM459 365h2v1h-2zM468 365h4v1h-4zM475 365h3v1h-3zM479 365h3v1h-3zM484 365h3v1h-3zM488 365h2v1h-2zM495 365h3v1h-3zM503 365h2v1h-2zM512 365h5v1h-5zM518 365h5v1h-5zM527 365h3v1h-3zM533 365h4v1h-4zM543 365h4v1h-4zM555 365h2v1h-2zM566 365h3v1h-3zM570 365h4v1h-4zM575 365h2v1h-2zM582 365h5v1h-5zM590 365h2v1h-2zM594 365h2v1h-2zM600 365h2v1h-2zM604 365h3v1h-3zM609 365h5v1h-5zM616 365h2v1h-2zM628 365h4v1h-4zM641 365h4v1h-4zM646 365h5v1h-5zM655 365h3v1h-3zM659 365h5v1h-5zM665 365h2v1h-2zM668 365h5v1h-5zM681 365h4v1h-4zM690 365h2v1h-2zM693 365h2v1h-2zM698 365h4v1h-4zM704 365h2v1h-2zM710 365h5v1h-5zM723 365h2v1h-2zM727 365h5v1h-5zM736 365h4v1h-4zM746 365h3v1h-3zM750 365h5v1h-5zM759 365h3v1h-3zM765 365h3v1h-3z" fill="#10b010"/>
<path class="px" d="M205 365h1v1h-1zM252 365h1v1h-1zM277 365h1v1h-1zM332 365h1v1h-1zM373 365h1v1h-1zM563 365h1v1h-1zM578 365h1v1h-1zM653 365h1v1h-1z" fill="#fff"/>
<rect class="px" x="71" y="217" width="700" height="1" fill="#000"/>
<path d="M390.8 17h11.4l-5.7 6.2z" fill="#ff9900"/>
<path d="M134 26q0-2 2-2h8q2 0 2 2v10l-6 3.5l-6-3.5z" fill="#ff9900"/>
<path class="px" d="M135 25h10v2h-4v9h-2v-9h-4z" fill="#fff"/>
<path d="M760 87.5l6.5-6v12z" fill="#1a1aff"/><rect class="px" x="766" y="87" width="5" height="1" fill="#1a1aff"/>
<path d="M0.5 107.5H13L20 115.5L13 123.5H0.5z" fill="#fff" stroke="#1010ff" stroke-width="1.1"/>
<path d="M1 107.5H13L20 115.5L15 120.5" fill="none" stroke="#d8d070" stroke-width="1.2"/>
<rect x="0" y="108" width="1.5" height="15" fill="#1010ff"/>
<path d="M4.73 112.97L8.55 110.30V120.6" stroke="#1010ff" stroke-width="1.5" fill="none" stroke-linejoin="miter"/>
<path d="M0 211H13.5L20.5 218.5L13.5 226.5H0z" fill="#10dede"/>
<path d="M13 227L20 219.5" stroke="#333" stroke-width="1.1" fill="none"/>
<path d="M1 211.5H13.5" stroke="#c8c8f0" stroke-width="1" fill="none"/>
<text x="4" y="224.3" style="font-family:"Liberation Sans",sans-serif;font-size:15px" fill="#fff" stroke="#fff" stroke-width="0.3">2</text>
<path d="M0.5 259.5H13L20 267.5L13 275.5H0.5z" fill="#fff" stroke="#a800a8" stroke-width="1.1"/>
<rect x="0" y="260" width="1.5" height="15" fill="#a800a8"/>
<text x="4" y="272.8" style="font-family:"Liberation Sans",sans-serif;font-size:15px" fill="#a800a8" stroke="#a800a8" stroke-width="0.2">3</text>
<path d="M0.5 359.5H13L20 367.5L13 375.5H0.5z" fill="#fff" stroke="#00a000" stroke-width="1.1"/>
<rect x="0" y="360" width="1.5" height="15" fill="#00a000"/>
<text x="4" y="372.8" style="font-family:"Liberation Sans",sans-serif;font-size:15px" fill="#00a000" stroke="#00a000" stroke-width="0.2">4</text>
<text class="tek" x="-0.5" y="14.75" stroke="#000" stroke-width="0.3">Tek</text>
<rect x="20.5" y="400.5" width="321" height="38" rx="6" ry="6" fill="#fff" stroke="#000" stroke-width="1"/>
<rect x="345.5" y="400.5" width="338" height="38" rx="6" ry="6" fill="#fff" stroke="#000" stroke-width="1"/>
<rect x="20.5" y="440.5" width="663" height="38" rx="6" ry="6" fill="#fff" stroke="#000" stroke-width="1"/>
<rect x="686.5" y="420.5" width="112" height="38" rx="6" ry="6" fill="#fff" stroke="#000" stroke-width="1"/>
<rect x="26" y="403.5" width="25" height="15" rx="7.5" fill="#1a1aff"/>
<path d="M36.98 408.27L40.80 405.60V415.9" stroke="#000" stroke-width="2.0" fill="none" stroke-linejoin="miter"/>
<rect x="26" y="421.5" width="25" height="15" rx="7.5" fill="#a000a0"/>
<text x="34.3" y="434.1" style="font-family:"Liberation Sans",sans-serif;font-size:15px" fill="#000" stroke="#000" stroke-width="0.3">3</text>
<rect x="186" y="403.5" width="25" height="15" rx="7.5" fill="#22e0e0"/>
<text x="194.3" y="416.1" style="font-family:"Liberation Sans",sans-serif;font-size:15px" fill="#000" stroke="#000" stroke-width="0.3">2</text>
<rect x="186" y="421.5" width="25" height="15" rx="7.5" fill="#00a000"/>
<text x="194.3" y="434.1" style="font-family:"Liberation Sans",sans-serif;font-size:15px" fill="#000" stroke="#000" stroke-width="0.3">4</text>
<rect x="349" y="422" width="12" height="13" rx="2" fill="#ff9900"/>
<path class="px" d="M351 424h8v2h-3v8h-2v-8h-3z" fill="#fff"/>
<path d="M362 428.5h6" stroke="#ff9900" stroke-width="1.2" fill="none"/><path d="M366.6 425.3L370.8 428.5L366.6 431.7z" fill="#ff9900"/>
<path d="M372 425h12l-6 6.5z" fill="#ff9900"/>
<rect x="616" y="403.5" width="25" height="15" rx="7.5" fill="#1a1aff"/>
<path d="M626.98 408.27L630.80 405.60V415.9" stroke="#000" stroke-width="2.0" fill="none" stroke-linejoin="miter"/>
<path d="M655 406.5h5l3.5 8h4" stroke="#000" stroke-width="2" fill="none"/>
<rect x="26" y="461.5" width="25" height="15" rx="7.5" fill="#1a1aff"/>
<path d="M36.98 466.27L40.80 463.60V473.9" stroke="#000" stroke-width="2.0" fill="none" stroke-linejoin="miter"/>
<path d="M56 468.5h6" stroke="#1a1aff" stroke-width="1.2" fill="none"/><path d="M60.6 465.3L64.8 468.5L60.6 471.7z" fill="#1a1aff"/>
<rect x="67" y="461.5" width="25" height="15" rx="7.5" fill="#00a000"/>
<text x="75.3" y="474.1" style="font-family:"Liberation Sans",sans-serif;font-size:15px" fill="#000" stroke="#000" stroke-width="0.3">4</text>
<path d="M93.5 464h4.5l3 8.5h4" stroke="#1a1aff" stroke-width="1.8" fill="none"/>
<path d="M105.5 464h4.5l3 8.5h4" stroke="#1a5a1a" stroke-width="1.8" fill="none"/>
<path d="M118.2 468.5h6" stroke="#1a5a1a" stroke-width="1.2" fill="none"/><path d="M122.8 465.3L127.0 468.5L122.8 471.7z" fill="#1a5a1a"/>
<text class="t" transform="translate(34.25 12.5) scale(1.1185 1)" fill="#000" stroke="#000">Stop</text>
<text class="t" transform="translate(24.01 120) scale(0.9428 1)" fill="#000" stroke="#000">EN</text>
<text class="t" transform="translate(23.95 223.5) scale(1.0300 1)" fill="#000" stroke="#000">VOUT</text>
<text class="t" transform="translate(23.88 272) scale(0.9374 1)" fill="#000" stroke="#000">SNS</text>
<text class="t" transform="translate(24.04 372) scale(0.9107 1)" fill="#000" stroke="#000">PG</text>
<text class="t" transform="translate(68.21 415.7) scale(1.0908 1)" fill="#1a1aff" stroke="#1a1aff">5.00 V</text>
<text class="t" transform="translate(69.29 433.7) scale(1.0674 1)" fill="#a000a0" stroke="#a000a0">1.00 V</text>
<text class="t" transform="translate(228.51 415.7) scale(1.0842 1)" fill="#22dddd" stroke="#22dddd">5.00 V</text>
<text class="t" transform="translate(228.51 433.7) scale(1.0842 1)" fill="#00a000" stroke="#00a000">5.00 V</text>
<text class="t" transform="translate(349.88 415.7) scale(1.1237 1)" fill="#000" stroke="#000">200µs</text>
<text class="t" transform="translate(384.38 433.7) scale(1.1353 1)" fill="#ff9900" stroke="#ff9900">684.000µs</text>
<text class="t" transform="translate(488.19 415.7) scale(1.1338 1)" fill="#000" stroke="#000">5.00MS/s</text>
<text class="t" transform="translate(488.90 433.7) scale(1.1596 1)" fill="#000" stroke="#000">10k points</text>
<text class="t" transform="translate(623.41 433.7) scale(1.0778 1)" fill="#000" stroke="#000">2.80 V</text>
<text class="t" transform="translate(161.87 456) scale(1.1000 1)" fill="#000" stroke="#000">Value</text>
<text class="t" transform="translate(256.54 456) scale(1.1001 1)" fill="#000" stroke="#000">Mean</text>
<text class="t" transform="translate(362.50 456) scale(1.2346 1)" fill="#000" stroke="#000">Min</text>
<text class="t" transform="translate(468.50 456) scale(1.0516 1)" fill="#000" stroke="#000">Max</text>
<text class="t" transform="translate(574.32 456) scale(1.0739 1)" fill="#000" stroke="#000">Std Dev</text>
<text class="t" transform="translate(161.88 474) scale(1.1489 1)" fill="#1a1aff" stroke="#1a1aff">5.045µs</text>
<text class="t" transform="translate(256.51 474) scale(1.1348 1)" fill="#000" stroke="#000">Low signal amplitude</text>
<text class="t" transform="translate(690.89 435.6) scale(1.1089 1)" fill="#000" stroke="#000">23</text>
<text class="t" transform="translate(715.51 435.6) scale(1.0413 1)" fill="#000" stroke="#000">Mar</text>
<text class="t" transform="translate(754.39 435.6) scale(1.1024 1)" fill="#000" stroke="#000">2015</text>
<text class="t" transform="translate(691.10 453.6) scale(1.1486 1)" fill="#000" stroke="#000">08:26:12</text>
</svg></body></html>
